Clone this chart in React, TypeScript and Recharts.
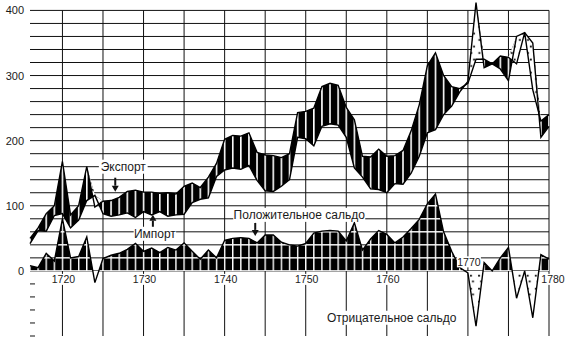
import {
  Area,
  CartesianGrid,
  ComposedChart,
  Line,
  ReferenceDot,
  XAxis,
  YAxis,
} from "recharts";

// yearly values, 1716..1780
const years = [
  1716, 1717, 1718, 1719, 1720, 1721, 1722, 1723, 1724, 1725, 1726, 1727, 1728,
  1729, 1730, 1731, 1732, 1733, 1734, 1735, 1736, 1737, 1738, 1739, 1740, 1741,
  1742, 1743, 1744, 1745, 1746, 1747, 1748, 1749, 1750, 1751, 1752, 1753, 1754,
  1755, 1756, 1757, 1758, 1759, 1760, 1761, 1762, 1763, 1764, 1765, 1766, 1767,
  1768, 1769, 1770, 1771, 1772, 1773, 1774, 1775, 1776, 1777, 1778, 1779, 1780,
];

const exportValues = [
  50, 66, 88, 100, 168, 86, 100, 160, 98, 107, 108, 113, 122, 124, 121, 121,
  119, 120, 118, 130, 135, 128, 144, 165, 202, 208, 207, 212, 182, 178, 177,
  174, 180, 243, 245, 250, 283, 288, 285, 251, 232, 176, 175, 187, 176, 177,
  185, 215, 255, 315, 335, 300, 283, 280, 288, 325, 325, 318, 330, 328, 318,
  366, 278, 230, 240,
];

const importValues = [
  42, 62, 61, 85, 88, 66, 78, 108, 116, 88, 84, 86, 89, 82, 91, 86, 91, 84, 86,
  87, 105, 110, 112, 145, 155, 158, 156, 162, 139, 123, 122, 130, 140, 205, 203,
  192, 222, 226, 224, 205, 158, 144, 126, 125, 120, 134, 133, 150, 176, 212,
  217, 240, 253, 275, 291, 412, 312, 318, 310, 292, 360, 366, 350, 205, 222,
];

const balanceValues = [
  8, 5, 27, 15, 80, 20, 22, 52, -18, 19, 24, 27, 33, 42, 30, 35, 28, 36, 32, 43,
  30, 18, 32, 20, 47, 50, 51, 50, 43, 55, 55, 44, 40, 38, 42, 58, 61, 62, 61,
  46, 74, 32, 49, 62, 56, 43, 52, 65, 79, 103, 118, 60, 30, 5, -3, -85, 13, 0,
  20, 36, -42, 0, -72, 25, 18,
];

const yTicks = [-100, -80, -60, -40, -20, 0, 100, 200, 300, 400];
const gridY = [0, 20, 40, 60, 80, 100, 120, 140, 160, 180, 200, 220, 240, 260, 280, 300, 320, 340, 360, 380, 400];
const gridX = [1716, 1720, 1725, 1730, 1735, 1740, 1745, 1750, 1755, 1760, 1765, 1770, 1775, 1780];
const decadeLabels = [1720, 1730, 1740, 1750, 1760, 1770, 1780];

const notes = [
  { text: "Экспорт", year: 1727.5, value: 160, arrow: { dx: -8, from: 11, to: 25 } },
  { text: "Импорт", year: 1731.4, value: 57, arrow: { dx: -2, from: -7, to: -19 } },
  { text: "Положительное сальдо", year: 1749.2, value: 86, arrow: { dx: -44, from: 8, to: 21 } },
  { text: "Отрицательное сальдо", year: 1760.6, value: -72, arrow: null },
];

// layout
const W = 575;
const H = 337;
const margin = { top: 0, right: 26, bottom: 1, left: 0 };
const Y_AXIS_W = 30;
const X_MIN = 1716;
const X_MAX = 1780;
const Y_MIN = -100;
const Y_MAX = 416;
const TOP_VALUE = 400;
const PLOT_LEFT = margin.left + Y_AXIS_W;
const PX_YEAR = (W - PLOT_LEFT - margin.right) / (X_MAX - X_MIN);
const PX_UNIT = (H - margin.top - margin.bottom) / (Y_MAX - Y_MIN);
const ZERO_Y = margin.top + Y_MAX * PX_UNIT;
const GRID_TOP = margin.top + (Y_MAX - TOP_VALUE) * PX_UNIT;
const PLOT_BOTTOM = H - margin.bottom;
const CELL_H = 20 * PX_UNIT;

const INK = "#111";
const FONT = '"Liberation Sans", Arial, Helvetica, sans-serif';

const data = years.map((year, i) => {
  const e = exportValues[i];
  const m = importValues[i];
  const top = Math.max(e, m);
  return {
    year,
    exp: e,
    imp: m,
    bal: balanceValues[i],
    surplus: [m, top],
    deficit: [e, top],
  };
});

const balMax = Math.max(...balanceValues);
const balMin = Math.min(...balanceValues);
const splitAt = balMax / (balMax - balMin);

const YTick = (props: any) => {
  const { x, y, payload } = props;
  const v = payload.value as number;
  if (v < 0) {
    return <line x1={PLOT_LEFT} x2={PLOT_LEFT + 5} y1={y} y2={y} stroke={INK} strokeWidth={1} />;
  }
  if (v % 100 !== 0) return <g />;
  return (
    <text x={x} y={y} textAnchor="end" dominantBaseline="central" fontSize={11} fill="#1a1a1a" fontFamily={FONT}>
      {v}
    </text>
  );
};

const YearLabel = ({ cx, cy, year }: { cx: number; cy: number; year: number }) => {
  const above = year === 1770;
  const ty = above ? cy - 9 : cy + 8.5;
  const tx = year === 1780 ? cx + 4 : cx + 1;
  return (
    <g>
      <rect x={tx - 12} y={ty - 5.5} width={24} height={11} fill="#fff" />
      <text x={tx} y={ty} textAnchor="middle" dominantBaseline="central" fontSize={10.5} fill="#1a1a1a" fontFamily={FONT}>
        {year}
      </text>
    </g>
  );
};

const Note = ({ cx, cy, note }: { cx: number; cy: number; note: (typeof notes)[number] }) => {
  const w = note.text.length * 6.4;
  const a = note.arrow;
  let arrow = null;
  if (a) {
    const ax = cx + a.dx;
    const down = a.to > a.from;
    const head = down ? a.to - 6 : a.to + 6;
    arrow = (
      <g>
        <line x1={ax} x2={ax} y1={cy + a.from} y2={cy + head} stroke={INK} strokeWidth={2} />
        <polygon
          points={`${ax - 3.5},${cy + head} ${ax + 3.5},${cy + head} ${ax},${cy + a.to}`}
          fill={INK}
        />
      </g>
    );
  }
  return (
    <g>
      <rect x={cx - w / 2 - 2} y={cy - 7} width={w + 4} height={14} fill="#fff" />
      <text x={cx} y={cy} textAnchor="middle" dominantBaseline="central" fontSize={12} fill="#1a1a1a" fontFamily={FONT}>
        {note.text}
      </text>
      {arrow}
    </g>
  );
};

export default function App() {
  return (
    <div style={{ position: "absolute", left: 0, top: 0, width: W, height: H, background: "#fff" }}>
      <ComposedChart width={W} height={H} data={data} margin={margin}>
        <defs>
          <pattern id="surplusFill" patternUnits="userSpaceOnUse" x={PLOT_LEFT - 0.8} y={0} width={PX_YEAR} height={20}>
            <rect width={PX_YEAR} height={20} fill="#000" />
            <rect width={1.6} height={20} fill="#fff" />
          </pattern>
          <pattern id="deficitFill" patternUnits="userSpaceOnUse" x={PLOT_LEFT} y={ZERO_Y} width={PX_YEAR} height={CELL_H}>
            <rect width={PX_YEAR} height={CELL_H} fill="#fff" />
            <rect x={PX_YEAR * 0.3} y={CELL_H * 0.2} width={1.8} height={1.8} fill="#000" />
            <rect x={PX_YEAR * 0.65} y={CELL_H * 0.7} width={1.8} height={1.8} fill="#000" />
          </pattern>
          <linearGradient id="balSplit" x1="0" y1="0" x2="0" y2="1">
            <stop offset={splitAt} stopColor="#000" />
            <stop offset={splitAt} stopColor="#fff" />
          </linearGradient>
          <pattern id="balGrid" patternUnits="userSpaceOnUse" x={PLOT_LEFT - 0.7} y={ZERO_Y - 0.7} width={PX_YEAR} height={CELL_H}>
            <rect width={1.4} height={CELL_H} fill="#fff" />
            <rect width={PX_YEAR} height={1.4} fill="#fff" />
            <rect x={PX_YEAR * 0.35} y={CELL_H * 0.35} width={1.8} height={1.8} fill="#000" />
            <rect x={PX_YEAR * 0.6} y={CELL_H * 0.8} width={1.8} height={1.8} fill="#000" />
          </pattern>
        </defs>

        <CartesianGrid
          stroke={INK}
          strokeWidth={1}
          horizontalValues={gridY}
          verticalValues={gridX}
          y={GRID_TOP}
          height={PLOT_BOTTOM - GRID_TOP}
        />

        <XAxis type="number" dataKey="year" domain={[X_MIN, X_MAX]} ticks={gridX} hide />
        <YAxis
          type="number"
          domain={[Y_MIN, Y_MAX]}
          ticks={yTicks}
          interval={0}
          width={Y_AXIS_W}
          tick={YTick}
          tickLine={false}
          tickSize={0}
          tickMargin={6}
          axisLine={false}
        />

        <Area type="linear" dataKey="surplus" fill="url(#surplusFill)" fillOpacity={1} stroke="none" isAnimationActive={false} />
        <Area type="linear" dataKey="deficit" fill="url(#deficitFill)" fillOpacity={1} stroke="none" isAnimationActive={false} />

        <Area type="linear" dataKey="bal" fill="url(#balSplit)" fillOpacity={1} stroke="none" isAnimationActive={false} />
        <Area type="linear" dataKey="bal" fill="url(#balGrid)" fillOpacity={1} stroke="#000" strokeWidth={1.4} isAnimationActive={false} />

        <Line type="linear" dataKey="exp" stroke="#000" strokeWidth={1.4} dot={false} isAnimationActive={false} />
        <Line type="linear" dataKey="imp" stroke="#000" strokeWidth={1.4} dot={false} isAnimationActive={false} />

        {decadeLabels.map((yr) => (
          <ReferenceDot
            key={yr}
            x={yr}
            y={0}
            r={0}
            ifOverflow="visible"
            shape={(p: any) => <YearLabel cx={p.cx} cy={p.cy} year={yr} />}
          />
        ))}
        {notes.map((n) => (
          <ReferenceDot
            key={n.text}
            x={n.year}
            y={n.value}
            r={0}
            ifOverflow="visible"
            shape={(p: any) => <Note cx={p.cx} cy={p.cy} note={n} />}
          />
        ))}
      </ComposedChart>
    </div>
  );
}
